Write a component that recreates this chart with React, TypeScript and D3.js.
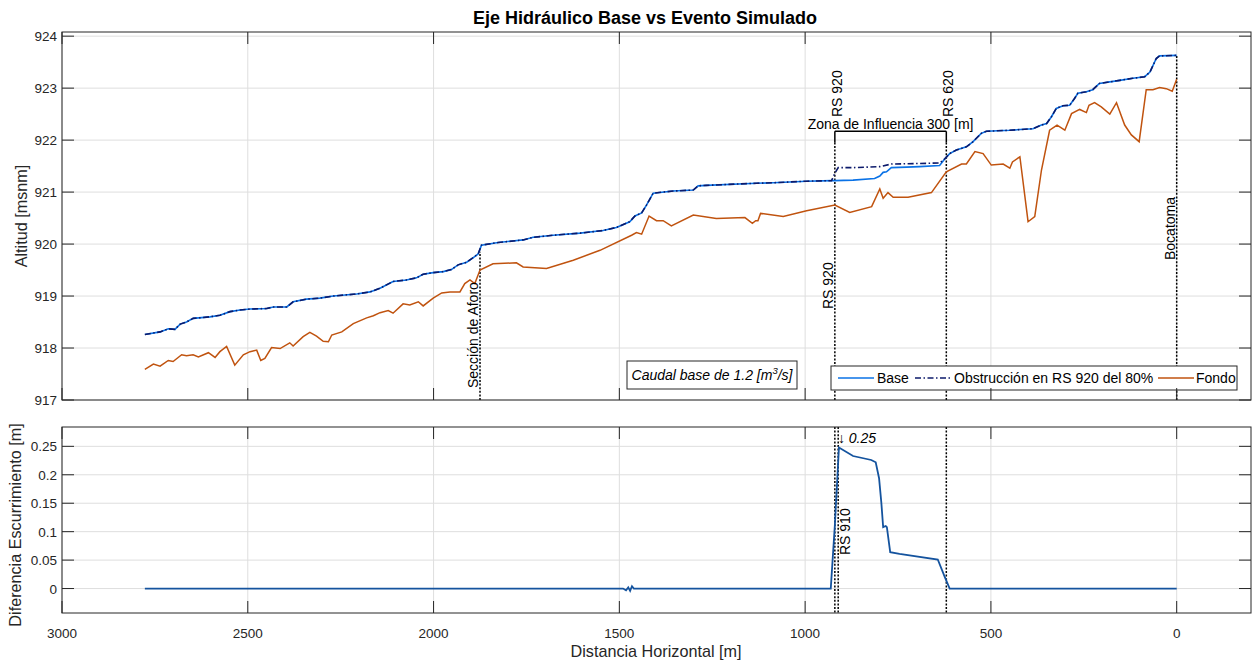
import React from "react";
import * as d3 from "d3";

// ---------- DATA ----------
// Water surface upstream of the influence zone (shared by both runs)
const wsUpDist = [2777, 2736, 2714, 2696, 2682, 2665, 2647, 2602, 2575, 2548, 2521, 2494, 2449, 2431, 2395, 2378, 2342, 2306, 2270, 2207, 2171, 2144, 2109, 2073, 2046, 2028, 2001, 1974, 1952, 1934, 1911, 1893, 1880, 1871, 1826, 1759, 1732, 1678, 1606, 1544, 1508, 1472, 1458, 1440, 1427, 1409, 1355, 1301, 1288, 1266, 1131, 1086, 996, 929];
const wsUpElev = [918.26, 918.31, 918.37, 918.36, 918.46, 918.5, 918.57, 918.6, 918.63, 918.7, 918.73, 918.75, 918.76, 918.79, 918.79, 918.89, 918.94, 918.96, 919.0, 919.04, 919.08, 919.15, 919.28, 919.31, 919.35, 919.42, 919.45, 919.47, 919.51, 919.6, 919.65, 919.74, 919.81, 919.98, 920.03, 920.08, 920.13, 920.17, 920.21, 920.26, 920.32, 920.43, 920.54, 920.6, 920.75, 920.98, 921.02, 921.04, 921.12, 921.13, 921.17, 921.18, 921.21, 921.22];
// Base run inside the zone
const baseZoneDist = [920, 871, 813, 799, 790, 781, 768, 727, 692, 638];
const baseZoneElev = [921.22, 921.23, 921.26, 921.31, 921.38, 921.39, 921.47, 921.48, 921.49, 921.51];
// Obstruction run inside the zone
const obsZoneDist = [920, 911, 871, 799, 768, 692, 638];
const obsZoneElev = [921.36, 921.47, 921.47, 921.49, 921.54, 921.55, 921.56];
// Water surface downstream (shared)
const wsDownDist = [624, 611, 593, 566, 548, 526, 512, 449, 387, 364, 350, 337, 324, 306, 288, 275, 266, 243, 226, 208, 180, 153, 118, 86, 72, 55, 46, 0];
const wsDownElev = [921.64, 921.74, 921.81, 921.87, 921.97, 922.13, 922.17, 922.19, 922.22, 922.29, 922.32, 922.45, 922.61, 922.66, 922.67, 922.8, 922.9, 922.93, 922.97, 923.09, 923.12, 923.15, 923.19, 923.22, 923.31, 923.57, 923.62, 923.63];

// Channel bed (Fondo)
const bedDist = [2777, 2754, 2736, 2714, 2701, 2678, 2665, 2647, 2633, 2606, 2588, 2575, 2557, 2535, 2512, 2494, 2476, 2465, 2454, 2436, 2413, 2387, 2378, 2351, 2333, 2315, 2297, 2283, 2274, 2247, 2216, 2180, 2162, 2144, 2122, 2109, 2082, 2064, 2041, 2028, 2001, 1978, 1956, 1929, 1916, 1902, 1889, 1875, 1840, 1777, 1759, 1696, 1624, 1552, 1467, 1454, 1440, 1420, 1400, 1382, 1360, 1301, 1239, 1162, 1142, 1133, 1127, 1120, 1059, 996, 920, 880, 821, 799, 790, 777, 763, 723, 660, 620, 579, 566, 543, 521, 499, 467, 449, 442, 422, 400, 382, 364, 342, 322, 301, 283, 261, 243, 236, 221, 203, 180, 162, 140, 122, 101, 82, 64, 46, 28, 12, 0];
const bedElev = [917.59, 917.69, 917.65, 917.76, 917.74, 917.87, 917.85, 917.87, 917.83, 917.91, 917.82, 917.93, 918.03, 917.67, 917.87, 917.93, 917.96, 917.76, 917.8, 918.01, 917.99, 918.1, 918.04, 918.22, 918.3, 918.23, 918.13, 918.12, 918.25, 918.31, 918.47, 918.58, 918.62, 918.68, 918.72, 918.67, 918.85, 918.83, 918.89, 918.81, 918.96, 919.06, 919.08, 919.08, 919.24, 919.31, 919.24, 919.5, 919.62, 919.64, 919.56, 919.53, 919.69, 919.88, 920.17, 920.22, 920.19, 920.54, 920.45, 920.45, 920.35, 920.56, 920.49, 920.51, 920.4, 920.45, 920.45, 920.59, 920.53, 920.64, 920.75, 920.61, 920.72, 921.06, 920.88, 920.99, 920.9, 920.9, 920.99, 921.39, 921.54, 921.54, 921.78, 921.74, 921.52, 921.54, 921.46, 921.58, 921.68, 920.43, 920.53, 921.42, 922.19, 922.29, 922.19, 922.51, 922.59, 922.53, 922.67, 922.72, 922.64, 922.5, 922.72, 922.29, 922.1, 921.97, 922.97, 922.97, 923.01, 922.99, 922.94, 923.17];

// Difference (obstruction - base)
const diffDist = [2777, 1490, 1482, 1476, 1471, 1466, 1461, 931, 920, 909, 871, 822, 810, 801, 795, 790, 783, 780, 771, 746, 643, 624, 611, 0];
const diffVal = [0, 0, -0.003, 0.002, -0.004, 0.004, 0, 0, 0.111, 0.248, 0.233, 0.226, 0.222, 0.194, 0.152, 0.108, 0.11, 0.108, 0.064, 0.061, 0.051, 0.02, 0, 0];

const xTicks = [3000, 2500, 2000, 1500, 1000, 500, 0];
const yTopTicks = [917, 918, 919, 920, 921, 922, 923, 924];
const yBotTicks = [0, 0.05, 0.1, 0.15, 0.2, 0.25];
const yBotLabels = ["0", "0.05", "0.1", "0.15", "0.2", "0.25"];

const legendLabels = ["Base", "Obstrucción en RS 920 del 80%", "Fondo"];

// ---------- LAYOUT ----------
const W = 1253, H = 662;
const L = 62, R = 1251;
const topT = 32, topB = 400;
const botT = 427, botB = 613;
const FONT = "'Liberation Sans', Arial, Helvetica, sans-serif";

const C_BASE = "#0a72e6";
const C_OBS = "#0c1a6b";
const C_BED = "#c0530f";
const C_DIFF = "#14539e";
const C_AX = "#262626";
const C_GRID = "#dedede";

const FS_TICK = 13.5;
const FS_TXT = 14;
const FS_LBL = 16.2;
const FS_TITLE = 18;

type P = [number, number];
const zip = (a: number[], b: number[]): P[] => a.map((v, i) => [v, b[i]]);

export default function App() {
  const x = d3.scaleLinear().domain([3000, -200]).range([L, R]);
  const yT = d3.scaleLinear().domain([917, 924.08]).range([topB, topT]);
  const yB = d3.scaleLinear().domain([-0.043, 0.284]).range([botB, botT]);

  const baseSeries = [...zip(wsUpDist, wsUpElev), ...zip(baseZoneDist, baseZoneElev), ...zip(wsDownDist, wsDownElev)];
  const obsSeries = [...zip(wsUpDist, wsUpElev), ...zip(obsZoneDist, obsZoneElev), ...zip(wsDownDist, wsDownElev)];
  const bedSeries = zip(bedDist, bedElev);
  const diffSeries = zip(diffDist, diffVal);

  const lineT = d3.line<P>().x(d => x(d[0])).y(d => yT(d[1]));
  const lineB = d3.line<P>().x(d => x(d[0])).y(d => yB(d[1]));

  const tickLen = 12;
  const dotted = "2,1.6";

  const zoneTop = 922.17;
  const zoneTick = 921.95;

  const peakD = 909, peakV = 0.248;

  return (
    <svg width={W} height={H} style={{ position: "absolute", left: 0, top: 0, background: "#fff" }} fontFamily={FONT}>
      <rect x={0} y={0} width={W} height={H} fill="#fff" />
      {/* title */}
      <text x={645} y={24} textAnchor="middle" fontSize={FS_TITLE} fontWeight="bold" fill="#000">Eje Hidráulico Base vs Evento Simulado</text>

      {/* ========== TOP AXES ========== */}
      <rect x={L} y={topT} width={R - L} height={topB - topT} fill="#fff" />
      {xTicks.map(t => (
        <line key={"gx" + t} x1={x(t)} x2={x(t)} y1={topT} y2={topB} stroke={C_GRID} strokeWidth={1} />
      ))}
      {yTopTicks.map(t => (
        <line key={"gy" + t} x1={L} x2={R} y1={yT(t)} y2={yT(t)} stroke={C_GRID} strokeWidth={1} />
      ))}

      {/* vertical markers top */}
      <line x1={x(1875)} x2={x(1875)} y1={yT(917)} y2={yT(919.85)} stroke="#000" strokeWidth={1.5} strokeDasharray={dotted} />
      <line x1={x(920)} x2={x(920)} y1={yT(917)} y2={yT(zoneTick)} stroke="#000" strokeWidth={1.5} strokeDasharray={dotted} />
      <line x1={x(620)} x2={x(620)} y1={yT(917)} y2={yT(zoneTick)} stroke="#000" strokeWidth={1.5} strokeDasharray={dotted} />
      <line x1={x(0)} x2={x(0)} y1={yT(917)} y2={yT(923.63)} stroke="#000" strokeWidth={1.5} strokeDasharray={dotted} />

      {/* bracket */}
      <line x1={x(920)} x2={x(620)} y1={yT(zoneTop)} y2={yT(zoneTop)} stroke="#000" strokeWidth={1.5} />
      <line x1={x(920)} x2={x(920)} y1={yT(zoneTop)} y2={yT(zoneTick)} stroke="#000" strokeWidth={1.5} />
      <line x1={x(620)} x2={x(620)} y1={yT(zoneTop)} y2={yT(zoneTick)} stroke="#000" strokeWidth={1.5} />
      <text x={(x(920) + x(620)) / 2} y={yT(zoneTop) - 2} textAnchor="middle" fontSize={FS_TXT} fill="#000">Zona de Influencia 300 [m]</text>

      {/* series top */}
      <path d={lineT(bedSeries) || ""} fill="none" stroke={C_BED} strokeWidth={1.5} />
      <path d={lineT(baseSeries) || ""} fill="none" stroke={C_BASE} strokeWidth={1.6} />
      <path d={lineT(obsSeries) || ""} fill="none" stroke={C_OBS} strokeWidth={1.6} strokeDasharray="6,2.5,1.5,2.5" />

      {/* rotated texts */}
      <text transform={`translate(${x(920) + 7},${117}) rotate(-90)`} fontSize={FS_TXT} fill="#000">RS 920</text>
      <text transform={`translate(${x(620) + 6.5},${117}) rotate(-90)`} fontSize={FS_TXT} fill="#000">RS 620</text>
      <text transform={`translate(${x(920) - 2},${309}) rotate(-90)`} fontSize={FS_TXT} fill="#000">RS 920</text>
      <text transform={`translate(${x(0) - 2},${260}) rotate(-90)`} fontSize={FS_TXT} fill="#000">Bocatoma</text>
      <text transform={`translate(${x(1875) - 2},${388}) rotate(-90)`} fontSize={FS_TXT} fill="#000">Sección de Aforo</text>

      {/* caudal box */}
      <rect x={627} y={361} width={170} height={28} fill="#fff" stroke={C_AX} strokeWidth={1} />
      <text x={712} y={380} textAnchor="middle" fontSize={FS_TXT} fontStyle="italic" fill="#000">
        Caudal base de 1.2 [m<tspan dy={-6} fontSize={9.5}>3</tspan><tspan dy={6}>/s]</tspan>
      </text>

      {/* legend */}
      <rect x={831} y={366} width={406} height={24} fill="#fff" stroke={C_AX} strokeWidth={1} />
      <line x1={838} x2={874} y1={378} y2={378} stroke={C_BASE} strokeWidth={1.6} />
      <text x={877} y={383} fontSize={FS_TXT} fill="#000">{legendLabels[0]}</text>
      <line x1={915} x2={951} y1={378} y2={378} stroke={C_OBS} strokeWidth={1.6} strokeDasharray="6,2.5,1.5,2.5" />
      <text x={954} y={383} fontSize={FS_TXT} fill="#000">{legendLabels[1]}</text>
      <line x1={1158} x2={1194} y1={378} y2={378} stroke={C_BED} strokeWidth={1.6} />
      <text x={1196} y={383} fontSize={FS_TXT} fill="#000">{legendLabels[2]}</text>

      {/* axes frame top */}
      <rect x={L} y={topT} width={R - L} height={topB - topT} fill="none" stroke={C_AX} strokeWidth={1} />
      {xTicks.map(t => (
        <g key={"tx" + t}>
          <line x1={x(t)} x2={x(t)} y1={topB} y2={topB - tickLen} stroke={C_AX} />
          <line x1={x(t)} x2={x(t)} y1={topT} y2={topT + tickLen} stroke={C_AX} />
        </g>
      ))}
      {yTopTicks.map(t => (
        <g key={"ty" + t}>
          <line x1={L} x2={L + tickLen} y1={yT(t)} y2={yT(t)} stroke={C_AX} />
          <line x1={R} x2={R - tickLen} y1={yT(t)} y2={yT(t)} stroke={C_AX} />
          <text x={L - 5} y={yT(t) + 5} textAnchor="end" fontSize={FS_TICK} fill="#262626">{t}</text>
        </g>
      ))}
      <text transform={`translate(${27},${(topT + topB) / 2}) rotate(-90)`} textAnchor="middle" fontSize={FS_LBL} fill="#262626">Altitud [msnm]</text>

      {/* ========== BOTTOM AXES ========== */}
      {xTicks.map(t => (
        <line key={"bgx" + t} x1={x(t)} x2={x(t)} y1={botT} y2={botB} stroke={C_GRID} strokeWidth={1} />
      ))}
      {yBotTicks.map(t => (
        <line key={"bgy" + t} x1={L} x2={R} y1={yB(t)} y2={yB(t)} stroke={C_GRID} strokeWidth={1} />
      ))}
      <line x1={x(920)} x2={x(920)} y1={botT} y2={botB} stroke="#000" strokeWidth={1.5} strokeDasharray={dotted} />
      <line x1={x(911)} x2={x(911)} y1={botT} y2={botB} stroke="#000" strokeWidth={1.5} strokeDasharray={dotted} />
      <line x1={x(620)} x2={x(620)} y1={botT} y2={botB} stroke="#000" strokeWidth={1.5} strokeDasharray={dotted} />
      <path d={lineB(diffSeries) || ""} fill="none" stroke={C_DIFF} strokeWidth={1.8} />
      <text transform={`translate(${x(911) + 12},${555}) rotate(-90)`} fontSize={FS_TXT} fill="#000">RS 910</text>
      <text x={x(peakD) - 1} y={yB(peakV) - 4} fontSize={FS_TXT} fontStyle="italic" fill="#000">↓ 0.25</text>

      <rect x={L} y={botT} width={R - L} height={botB - botT} fill="none" stroke={C_AX} strokeWidth={1} />
      {xTicks.map(t => (
        <g key={"btx" + t}>
          <line x1={x(t)} x2={x(t)} y1={botB} y2={botB - tickLen} stroke={C_AX} />
          <line x1={x(t)} x2={x(t)} y1={botT} y2={botT + tickLen} stroke={C_AX} />
          <text x={x(t)} y={638} textAnchor="middle" fontSize={FS_TICK} fill="#262626">{t}</text>
        </g>
      ))}
      {yBotTicks.map((t, i) => (
        <g key={"bty" + t}>
          <line x1={L} x2={L + tickLen} y1={yB(t)} y2={yB(t)} stroke={C_AX} />
          <line x1={R} x2={R - tickLen} y1={yB(t)} y2={yB(t)} stroke={C_AX} />
          <text x={L - 5} y={yB(t) + 5} textAnchor="end" fontSize={FS_TICK} fill="#262626">{yBotLabels[i]}</text>
        </g>
      ))}
      <text transform={`translate(${21},${525}) rotate(-90)`} textAnchor="middle" fontSize={FS_LBL} fill="#262626">Diferencia Escurrimiento [m]</text>
      <text x={656} y={657} textAnchor="middle" fontSize={FS_LBL} fill="#262626">Distancia Horizontal [m]</text>
    </svg>
  );
}
